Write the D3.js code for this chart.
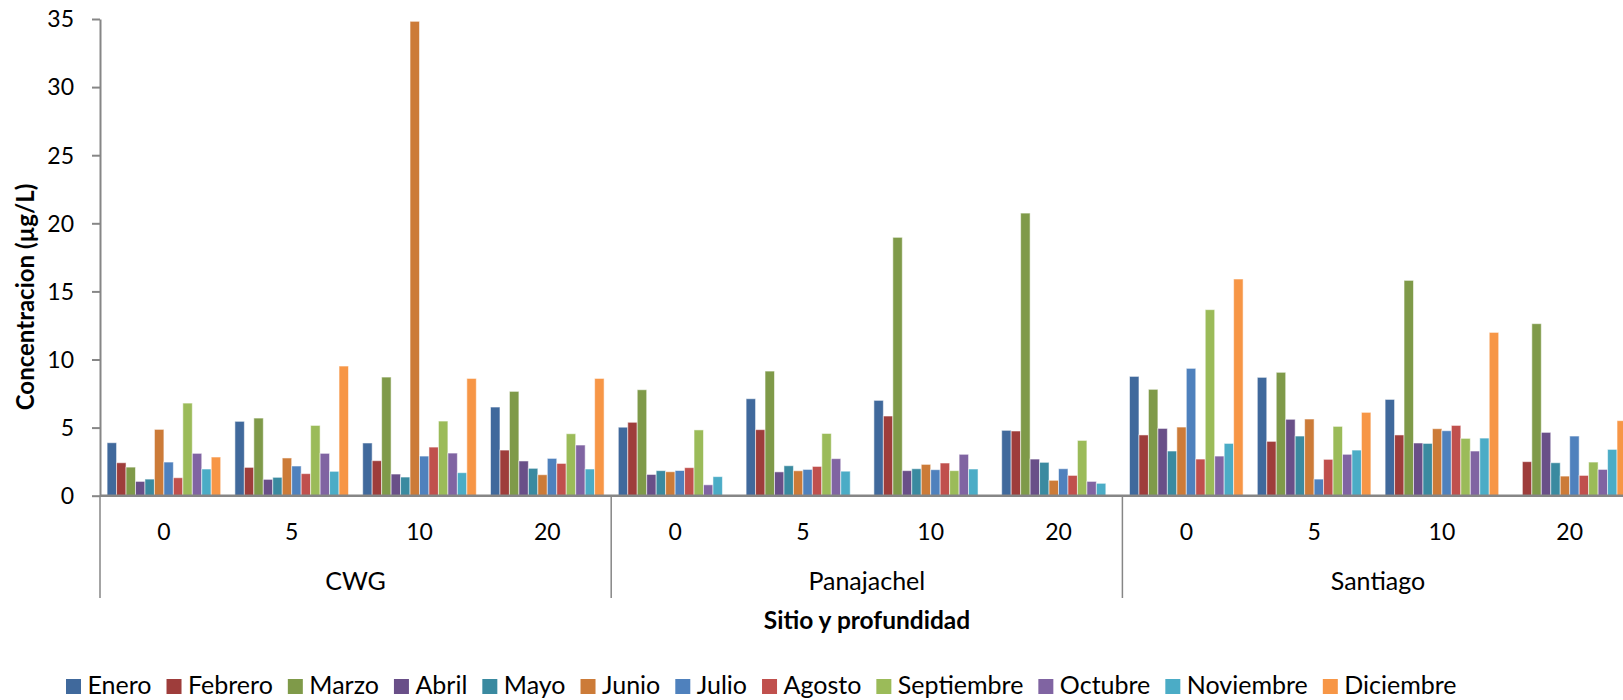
<!DOCTYPE html>
<html>
<head>
<meta charset="utf-8">
<script src="https://cdn.jsdelivr.net/npm/d3@7"></script>
<style>
  html, body { margin: 0; padding: 0; background: #fff; overflow: hidden; }
  svg { display: block; font-family: Lato, "Noto Sans", sans-serif; }
</style>
</head>
<body>
<svg id="chart" width="1623" height="700"></svg>
<script>
// Sites and sampling depths (m) – two-level category axis
const sites = ["CWG", "Panajachel", "Santiago"];
const depths = ["0", "5", "10", "20"];

// Month series
const months = ["Enero", "Febrero", "Marzo", "Abril", "Mayo", "Junio",
                "Julio", "Agosto", "Septiembre", "Octubre", "Noviembre", "Diciembre"];
const monthColors = ["#40699c", "#9e3d3b", "#7f9a49", "#694f88", "#3a8aa0", "#cc7b38",
                     "#4f81bd", "#c0504d", "#9bbb59", "#8064a2", "#4bacc6", "#f79646"];

// Concentration (µg/L) per month; order: CWG 0,5,10,20 | Panajachel 0,5,10,20 | Santiago 0,5,10,20
const enero      = [3.89, 5.46, 3.87, 6.51, 5.03, 7.12, 7.00, 4.80, 8.76, 8.69, 7.07, null];
const febrero    = [2.42, 2.08, 2.57, 3.35, 5.39, 4.85, 5.85, 4.75, 4.46, 3.99, 4.46, 2.50];
const marzo      = [2.10, 5.70, 8.71, 7.66, 7.78, 9.15, 18.97, 20.75, 7.81, 9.06, 15.81, 12.63];
const abril      = [1.05, 1.20, 1.59, 2.55, 1.56, 1.75, 1.84, 2.69, 4.94, 5.61, 3.87, 4.65];
const mayo       = [1.22, 1.35, 1.37, 2.01, 1.84, 2.20, 1.98, 2.45, 3.28, 4.38, 3.84, 2.42];
const junio      = [4.87, 2.77, 34.83, 1.54, 1.76, 1.83, 2.30, 1.13, 5.04, 5.63, 4.92, 1.44];
const julio      = [2.47, 2.18, 2.91, 2.74, 1.85, 1.93, 1.91, 1.98, 9.35, 1.22, 4.77, 4.38];
const agosto     = [1.32, 1.62, 3.57, 2.37, 2.06, 2.15, 2.40, 1.49, 2.69, 2.67, 5.16, 1.49];
const septiembre = [6.80, 5.16, 5.48, 4.55, 4.83, 4.57, 1.84, 4.06, 13.66, 5.09, 4.21, 2.47];
const octubre    = [3.11, 3.11, 3.13, 3.72, 0.80, 2.72, 3.04, 1.05, 2.91, 3.04, 3.28, 1.93];
const noviembre  = [1.96, 1.79, 1.69, 1.96, 1.40, 1.80, 1.96, 0.91, 3.84, 3.35, 4.23, 3.40];
const diciembre  = [2.84, 9.52, 8.61, 8.61, null, null, null, null, 15.91, 6.12, 11.99, 5.51];

const yTicks = [0, 5, 10, 15, 20, 25, 30, 35];

const seriesValues = [enero, febrero, marzo, abril, mayo, junio,
                      julio, agosto, septiembre, octubre, noviembre, diciembre];

// Flat list of category keys (site|depth)
const groups = [];
sites.forEach(s => depths.forEach(d => groups.push({ site: s, depth: d, key: s + "|" + d })));

const rows = [];
groups.forEach((g, gi) => {
  months.forEach((m, mi) => {
    const v = seriesValues[mi][gi];
    if (v != null) rows.push({ group: g.key, month: m, value: v });
  });
});

const svg = d3.select("#chart");
const axisColor = "#868686";

const plotLeft = 100;
const groupStep = 127.8;
const plotRight = plotLeft + groupStep * groups.length;
const yZero = 495.7, yTop = 19;

const x0 = d3.scaleBand().domain(groups.map(g => g.key)).range([plotLeft, plotRight]).paddingInner(0).paddingOuter(0);
const x1 = d3.scaleBand().domain(months).range([0, x0.bandwidth()]).paddingInner(0).paddingOuter(0.75);
const y = d3.scaleLinear().domain([0, 35]).range([yZero, yTop]);
const color = d3.scaleOrdinal().domain(months).range(monthColors);

// Bars
svg.append("g").selectAll("rect").data(rows).join("rect")
  .attr("x", d => x0(d.group) + x1(d.month))
  .attr("y", d => y(d.value))
  .attr("width", x1.bandwidth())
  .attr("height", d => y(0) - y(d.value))
  .attr("fill", d => color(d.month))
  .attr("stroke", "rgba(255,255,255,0.55)")
  .attr("stroke-width", 1);

// Value axis
const yAxis = svg.append("g")
  .attr("transform", `translate(${plotLeft},0)`)
  .call(d3.axisLeft(y).tickValues(yTicks).tickSize(8).tickPadding(18).tickSizeOuter(0));
yAxis.select(".domain").attr("stroke", axisColor).attr("stroke-width", 2);
yAxis.selectAll(".tick line").attr("stroke", axisColor).attr("stroke-width", 2);
yAxis.selectAll(".tick text").attr("font-size", 23).attr("fill", "#000")
  .attr("font-family", "Lato, sans-serif").attr("dy", "0.34em");

// Category baseline
svg.append("line")
  .attr("x1", plotLeft).attr("x2", plotRight)
  .attr("y1", y(0)).attr("y2", y(0))
  .attr("stroke", axisColor).attr("stroke-width", 2.5);

// Site separators reaching down through the label rows
const siteEdges = [plotLeft].concat(sites.map(s => x0(s + "|" + depths[depths.length - 1]) + x0.bandwidth()));
svg.append("g").selectAll("line").data(siteEdges).join("line")
  .attr("x1", d => d).attr("x2", d => d)
  .attr("y1", y(0)).attr("y2", 598)
  .attr("stroke", axisColor).attr("stroke-width", 1.5);

// Depth labels
svg.append("g").selectAll("text").data(groups).join("text")
  .attr("x", d => x0(d.key) + x0.bandwidth() / 2)
  .attr("y", 540)
  .attr("text-anchor", "middle")
  .attr("font-size", 23)
  .text(d => d.depth);

// Site labels
svg.append("g").selectAll("text").data(sites).join("text")
  .attr("x", s => (x0(s + "|" + depths[0]) + x0(s + "|" + depths[depths.length - 1]) + x0.bandwidth()) / 2)
  .attr("y", 590)
  .attr("text-anchor", "middle")
  .attr("font-size", 25)
  .text(s => s);

// Axis titles
svg.append("text")
  .attr("transform", `translate(34,297) rotate(-90)`)
  .attr("text-anchor", "middle")
  .attr("font-size", 24)
  .attr("font-weight", "bold")
  .text("Concentracion (µg/L)");

svg.append("text")
  .attr("x", 867).attr("y", 629)
  .attr("text-anchor", "middle")
  .attr("font-size", 24.5)
  .attr("font-weight", "bold")
  .text("Sitio y profundidad");

// Legend
const legend = svg.append("g");
let lx = 66;
months.forEach(m => {
  legend.append("rect")
    .attr("x", lx).attr("y", 679).attr("width", 15).attr("height", 15)
    .attr("fill", color(m));
  const t = legend.append("text")
    .attr("x", lx + 21.5).attr("y", 694)
    .attr("font-size", 25)
    .text(m);
  lx += 21.5 + t.node().getComputedTextLength() + 15;
});
</script>
</body>
</html>
